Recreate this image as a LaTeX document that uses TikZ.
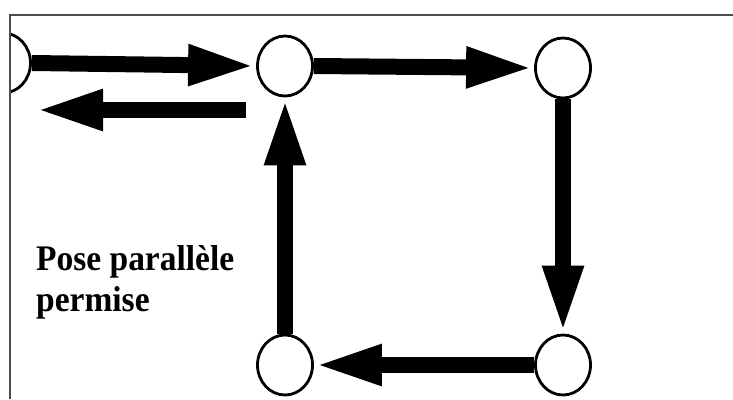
\documentclass[tikz,border=0pt]{standalone}
\usepackage{fontspec}
\setmainfont{Liberation Serif}
\usetikzlibrary{arrows.meta,shapes.geometric}
\begin{document}
\begin{tikzpicture}[x=1pt,y=-1pt,
  place/.style={ellipse,draw=black,line width=2.8pt,fill=white,minimum width=55pt,minimum height=60pt,inner sep=0pt},
  flow/.style={line width=16pt,-{Triangle[length=68pt,width=37pt]}},
  label/.style={anchor=base west,inner sep=0pt,xscale=0.93,font=\bfseries\fontsize{36}{40}\selectfont},
  frameline/.style={line width=2pt,draw=black!70}]
\useasboundingbox (0,0) rectangle (733,399);
\fill[white] (0,0) rectangle (733,399);
\draw[frameline] (10,399) -- (10,15) -- (733,15);
\begin{scope}
\clip (11,0) rectangle (733,399);
\node[place] (L) at (3,63) {};
\end{scope}
\node[place] (A) at (285,66) {};
\node[place] (B) at (563,68) {};
\node[place] (C) at (563,365) {};
\node[place] (D) at (285,365) {};
\coordinate (r0) at (246,110);
\coordinate (r1) at (35,110);
\draw[flow] (L.east) -- (A.west);
\draw[flow] (r0) -- (r1);
\draw[flow] (A.east) -- (B.west);
\draw[flow] (B.south) -- (C.north);
\draw[flow] (C.west) -- (D.east);
\draw[flow] (D.north) -- (A.south);
\node[label] (t1) at (36,270) {Pose parallèle};
\node[label] (t2) at (36,311) {permise};
\end{tikzpicture}
\end{document}
